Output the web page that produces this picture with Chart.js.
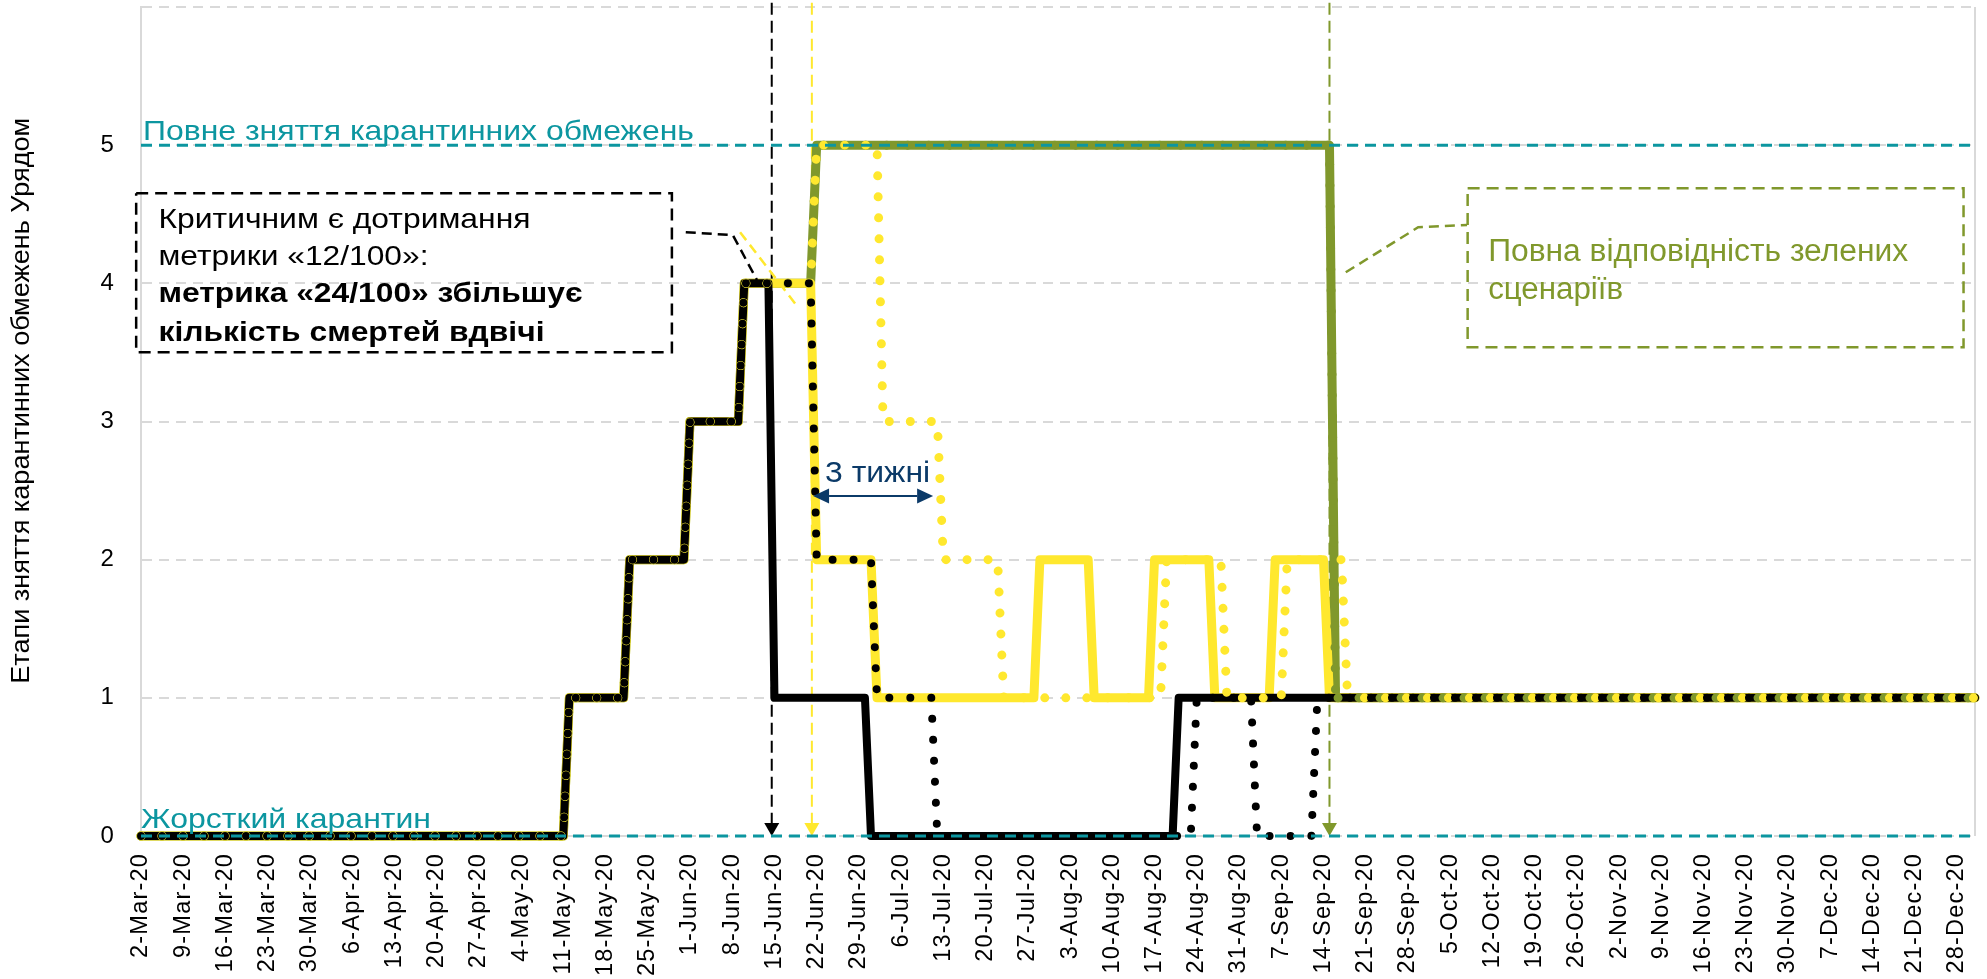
<!DOCTYPE html>
<html lang="uk">
<head>
<meta charset="utf-8">
<title>Етапи зняття карантинних обмежень Урядом</title>
<script src="https://cdn.jsdelivr.net/npm/chart.js@4.4.1/dist/chart.umd.min.js"></script>
<style>
  html, body { margin: 0; padding: 0; background: #ffffff; }
  canvas { display: block; }
</style>
</head>
<body>
<canvas id="chart" width="1987" height="979"></canvas>
<script>
// x values are days counted from 2 March 2020 (day 0); y values are quarantine-easing stages.
const tickLabels = ['2-Mar-20','9-Mar-20','16-Mar-20','23-Mar-20','30-Mar-20','6-Apr-20','13-Apr-20',
  '20-Apr-20','27-Apr-20','4-May-20','11-May-20','18-May-20','25-May-20','1-Jun-20','8-Jun-20',
  '15-Jun-20','22-Jun-20','29-Jun-20','6-Jul-20','13-Jul-20','20-Jul-20','27-Jul-20','3-Aug-20',
  '10-Aug-20','17-Aug-20','24-Aug-20','31-Aug-20','7-Sep-20','14-Sep-20','21-Sep-20','28-Sep-20',
  '5-Oct-20','12-Oct-20','19-Oct-20','26-Oct-20','2-Nov-20','9-Nov-20','16-Nov-20','23-Nov-20',
  '30-Nov-20','7-Dec-20','14-Dec-20','21-Dec-20','28-Dec-20'];
const tickDays = tickLabels.map((_, i) => i * 7);
const stageTicks = [0, 1, 2, 3, 4, 5, 6];
const lastDay = 304;

// Scenario "24/100" as actually applied (solid black)
const blackSolidDays   = [0, 70, 71, 80, 81, 90, 91, 99, 100, 104, 105, 120, 121, 171, 172, 304];
const blackSolidStages = [0, 0, 1, 1, 2, 2, 3, 3, 4, 4, 1, 1, 0, 0, 1, 1];

// Scenario "24/100", alternative path (dotted black)
const blackDottedDays   = [0, 70, 71, 80, 81, 90, 91, 99, 100, 111, 112, 121, 122, 131, 132, 174, 175, 184, 185, 194, 195, 304];
const blackDottedStages = [0, 0, 1, 1, 2, 2, 3, 3, 4, 4, 2, 2, 1, 1, 0, 0, 1, 1, 0, 0, 1, 1];

// Scenario "12/100" (solid yellow)
const yellowSolidDays   = [0, 70, 71, 80, 81, 90, 91, 99, 100, 111, 112, 121, 122, 148, 149, 157, 158, 167, 168, 177, 178, 187, 188, 196, 197, 304];
const yellowSolidStages = [0, 0, 1, 1, 2, 2, 3, 3, 4, 4, 2, 2, 1, 1, 2, 2, 1, 1, 2, 2, 1, 1, 2, 2, 1, 1];

// Scenario "12/100", alternative path (dotted yellow)
const yellowDottedDays   = [0, 70, 71, 80, 81, 90, 91, 99, 100, 111, 112, 122, 123, 132, 133, 142, 143, 169, 170, 179, 180, 189, 190, 199, 200, 304];
const yellowDottedStages = [0, 0, 1, 1, 2, 2, 3, 3, 4, 4, 5, 5, 3, 3, 2, 2, 1, 1, 2, 2, 1, 1, 2, 2, 1, 1];

// Green scenario (solid and dotted olive share the path)
const greenDays   = [0, 70, 71, 80, 81, 90, 91, 99, 100, 111, 112, 197, 198, 304];
const greenStages = [0, 0, 1, 1, 2, 2, 3, 3, 4, 4, 5, 5, 1, 1];

// Marker days for the vertical arrows and the "3 weeks" span
const arrowDays = { black: 104.55, yellow: 111.2, green: 197.0 };
const weeksSpan = { from: 111.4, to: 131.3, stage: 2.46 };

const BLACK = '#000000';
const YELLOW = '#FFE82E';
const OLIVE = '#80982C';
const TEAL = '#0C96A0';
const NAVY = '#0B3A68';
const GRID = '#D9D9D9';
const FONT = '"Liberation Sans", Arial, sans-serif';
const DOT_STEP = 21;

function stageLine(label, days, stages, style) {
  const ds = {
    label,
    data: days.map((d, i) => ({ x: d, y: stages[i] })),
    borderColor: style.color,
    backgroundColor: style.color,
    borderWidth: style.width,
    borderDash: style.dotted ? [0.01, DOT_STEP - 0.01] : [],
    borderCapStyle: 'round',
    borderJoinStyle: 'round',
    pointRadius: 0,
    pointHoverRadius: 0,
    fill: false,
    tension: 0,
    clip: false,
    order: style.order
  };
  if (style.dotted) {
    // the shared early path keeps every dotted line in step; the final flat run
    // restarts its dots so that one sits on the given anchor day
    ds.segment = {
      borderDashOffset: c => {
        if (c.p1DataIndex !== days.length - 1) return 0;
        const d = c.chart.scales.x.getPixelForValue(style.dotAnchor) - c.p0.x;
        return ((-d % DOT_STEP) + DOT_STEP) % DOT_STEP;
      }
    };
  }
  return ds;
}

// ---- drawing helpers for the notes layer ----
function drawText(ctx, text, x, y, opt) {
  ctx.save();
  ctx.letterSpacing = '0px';
  ctx.font = (opt.bold ? 'bold ' : '') + opt.size + 'px ' + FONT;
  ctx.fillStyle = opt.color;
  ctx.textBaseline = opt.baseline || 'alphabetic';
  ctx.textAlign = 'left';
  const w = ctx.measureText(text).width;
  const sx = opt.width ? opt.width / w : 1;
  ctx.translate(x, y);
  if (opt.rotate) ctx.rotate(opt.rotate);
  ctx.scale(sx, 1);
  ctx.fillText(text, opt.align === 'center' ? -w / 2 : 0, 0);
  ctx.restore();
}

function dashedPath(ctx, pts, color, width, dash) {
  ctx.save();
  ctx.strokeStyle = color;
  ctx.lineWidth = width;
  ctx.setLineDash(dash);
  ctx.beginPath();
  pts.forEach((p, i) => (i ? ctx.lineTo(p[0], p[1]) : ctx.moveTo(p[0], p[1])));
  ctx.stroke();
  ctx.restore();
}

function dashedBox(ctx, x0, y0, x1, y1, color) {
  dashedPath(ctx, [[x0, y0], [x1, y0], [x1, y1], [x0, y1], [x0, y0]], color, 2.5, [12, 7]);
}

function downArrow(ctx, x, yTop, yTip, color) {
  const head = 13, half = 7.5;
  dashedPath(ctx, [[x, yTop], [x, yTip - head]], color, 2, [12, 6]);
  ctx.save();
  ctx.fillStyle = color;
  ctx.beginPath();
  ctx.moveTo(x - half, yTip - head);
  ctx.lineTo(x + half, yTip - head);
  ctx.lineTo(x, yTip);
  ctx.closePath();
  ctx.fill();
  ctx.restore();
}

function doubleArrow(ctx, x1, x2, y, color) {
  const head = 16, half = 7.5;
  ctx.save();
  ctx.strokeStyle = color;
  ctx.fillStyle = color;
  ctx.lineWidth = 2;
  ctx.beginPath();
  ctx.moveTo(x1 + head, y);
  ctx.lineTo(x2 - head, y);
  ctx.stroke();
  ctx.beginPath();
  ctx.moveTo(x1, y); ctx.lineTo(x1 + head, y - half); ctx.lineTo(x1 + head, y + half); ctx.closePath();
  ctx.fill();
  ctx.beginPath();
  ctx.moveTo(x2, y); ctx.lineTo(x2 - head, y - half); ctx.lineTo(x2 - head, y + half); ctx.closePath();
  ctx.fill();
  ctx.restore();
}

const notesPlugin = {
  id: 'stageNotes',
  beforeDraw(chart) {
    // spacing used by the rotated date labels
    chart.ctx.letterSpacing = '1.2px';
  },
  beforeDatasetsDraw(chart) {
    const { ctx, chartArea: a, scales: { x, y } } = chart;
    ctx.save();
    ctx.letterSpacing = '0px';
    // right frame line
    ctx.strokeStyle = GRID;
    ctx.lineWidth = 2;
    ctx.beginPath();
    ctx.moveTo(a.right, a.top);
    ctx.lineTo(a.right, a.bottom);
    ctx.stroke();
    const top = y.getPixelForValue(6.03);
    const base = y.getPixelForValue(0);
    downArrow(ctx, x.getPixelForValue(arrowDays.black), top, base, BLACK);
    downArrow(ctx, x.getPixelForValue(arrowDays.yellow), top, base, YELLOW);
    downArrow(ctx, x.getPixelForValue(arrowDays.green), top, base, OLIVE);
    ctx.restore();
  },
  afterDatasetsDraw(chart) {
    const { ctx, chartArea: a, scales: { x, y } } = chart;
    const X = d => x.getPixelForValue(d);
    const Y = v => y.getPixelForValue(v);
    ctx.save();
    ctx.letterSpacing = '0px';

    // reference levels: full lifting (5) and hard lockdown (0)
    [5, 0].forEach(v => dashedPath(ctx, [[a.left, Y(v)], [a.right, Y(v)]], TEAL, 3, [11, 7]));
    drawText(ctx, 'Повне зняття карантинних обмежень', X(0.33), Y(5.041), { size: 28, color: TEAL, width: 551 });
    drawText(ctx, 'Жорсткий карантин', X(0), Y(0.056), { size: 28, color: TEAL, width: 290 });

    // note about the 12/100 metric
    dashedBox(ctx, X(-0.8), Y(4.652), X(88.0), Y(3.501), BLACK);
    drawText(ctx, 'Критичним є дотримання', X(2.9), Y(4.401), { size: 28, color: BLACK, width: 372 });
    drawText(ctx, 'метрики «12/100»:', X(2.9), Y(4.131), { size: 28, color: BLACK, width: 270 });
    drawText(ctx, 'метрика «24/100» збільшує', X(2.9), Y(3.866), { size: 28, bold: true, color: BLACK, width: 424 });
    drawText(ctx, 'кількість смертей вдвічі', X(2.9), Y(3.583), { size: 28, bold: true, color: BLACK, width: 386 });
    dashedPath(ctx, [[X(90.3), Y(4.370)], [X(98.1), Y(4.349)], [X(102.1), Y(4.024)]], BLACK, 2.5, [10, 6]);
    dashedPath(ctx, [[X(99.3), Y(4.370)], [X(108.9), Y(3.827)]], YELLOW, 2.5, [10, 6]);

    // green scenarios note
    dashedBox(ctx, X(219.9), Y(4.689), X(302.1), Y(3.538), OLIVE);
    drawText(ctx, 'Повна відповідність зелених', X(223.3), Y(4.162), { size: 31, color: OLIVE, width: 420 });
    drawText(ctx, 'сценаріїв', X(223.3), Y(3.883), { size: 31, color: OLIVE, width: 135 });
    dashedPath(ctx, [[X(199.7), Y(4.080)], [X(211.7), Y(4.406)], [X(219.8), Y(4.423)]], OLIVE, 2.5, [10, 6]);

    // three-week gap between the two 12/100 paths
    doubleArrow(ctx, X(weeksSpan.from), X(weeksSpan.to), Y(weeksSpan.stage), NAVY);
    drawText(ctx, '3 тижні', X(122.1), Y(2.563), { size: 29, color: NAVY, width: 105, align: 'center' });

    // axis title
    drawText(ctx, 'Етапи зняття карантинних обмежень Урядом', 22, Y(3.15),
      { size: 26, color: '#000000', width: 566, align: 'center', baseline: 'middle', rotate: -Math.PI / 2 });
    ctx.restore();
  }
};

new Chart(document.getElementById('chart'), {
  type: 'line',
  data: {
    datasets: [
      stageLine('24/100 — альтернатива', blackDottedDays, blackDottedStages, { color: BLACK, width: 8, dotted: true, dotAnchor: 200.4, order: 0 }),
      stageLine('12/100 — альтернатива', yellowDottedDays, yellowDottedStages, { color: YELLOW, width: 9, dotted: true, dotAnchor: 202.8, order: 1 }),
      stageLine('Зелені сценарії — пунктир', greenDays, greenStages, { color: OLIVE, width: 9, dotted: true, dotAnchor: 201.9, order: 2 }),
      stageLine('24/100', blackSolidDays, blackSolidStages, { color: BLACK, width: 8, order: 3 }),
      stageLine('12/100', yellowSolidDays, yellowSolidStages, { color: YELLOW, width: 9, order: 4 }),
      stageLine('Зелені сценарії', greenDays, greenStages, { color: OLIVE, width: 9, order: 5 })
    ]
  },
  options: {
    responsive: false,
    animation: false,
    devicePixelRatio: 1,
    events: [],
    layout: { padding: { top: 7, right: 12, bottom: 0, left: 0 } },
    plugins: { legend: { display: false }, tooltip: { enabled: false } },
    scales: {
      x: {
        type: 'linear',
        min: 0,
        max: lastDay,
        grid: { display: false, drawTicks: false },
        border: { display: false },
        afterBuildTicks: s => { s.ticks = tickDays.map(v => ({ value: v })); },
        afterFit: s => { s.height = 143; s.paddingLeft = 0; s.paddingRight = 0; },
        ticks: {
          autoSkip: false,
          minRotation: 90,
          maxRotation: 90,
          padding: 17,
          color: '#000000',
          font: { family: 'Liberation Sans', size: 23.5 },
          callback: v => tickLabels[Math.round(v / 7)] ?? ''
        }
      },
      y: {
        min: 0,
        max: 6,
        afterBuildTicks: s => { s.ticks = stageTicks.map(v => ({ value: v })); },
        afterFit: s => { s.width = 141; s.paddingTop = 0; s.paddingBottom = 0; },
        grid: { color: GRID, lineWidth: 2, drawTicks: false },
        border: { display: true, color: GRID, width: 2, dash: [10, 7] },
        ticks: {
          padding: 26,
          color: '#000000',
          font: { family: 'Liberation Sans', size: 24 },
          callback: v => (v === 6 ? '' : String(v))
        }
      }
    }
  },
  plugins: [notesPlugin]
});
</script>
</body>
</html>
